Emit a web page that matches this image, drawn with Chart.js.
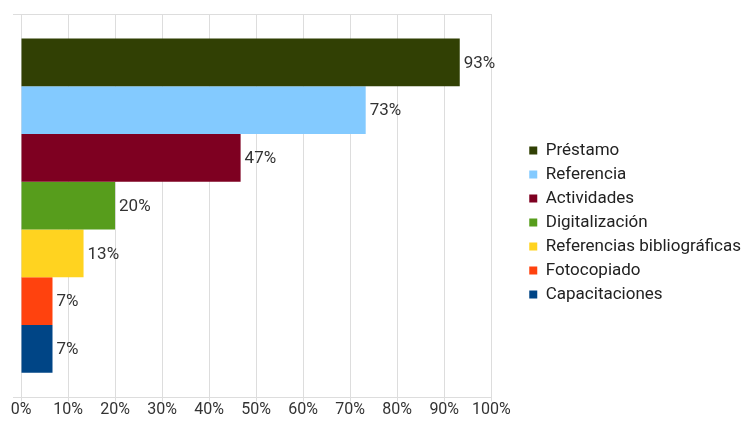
<!DOCTYPE html>
<html>
<head>
<meta charset="utf-8">
<script src="https://cdn.jsdelivr.net/npm/chart.js@4"></script>
<style>
html,body{margin:0;padding:0;background:#fff;}
#wrap{width:743px;height:423px;position:relative;}
</style>
</head>
<body>
<div id="wrap"><canvas id="c" width="743" height="423"></canvas></div>
<script>
const seriesNames = ["Préstamo","Referencia","Actividades","Digitalización","Referencias bibliográficas","Fotocopiado","Capacitaciones"];
const seriesValues = [93.3, 73.3, 46.7, 20.0, 13.3, 6.7, 6.7];
const seriesColors = ["#314004","#83caff","#7e0021","#579d1c","#ffd320","#ff420e","#004586"];
const categories = [""];
const xTicks = [0,10,20,30,40,50,60,70,80,90,100];

function draw(){
const datasets = seriesNames.map((n,i)=>({
  label:n,
  data:[seriesValues[i]],
  backgroundColor:seriesColors[i],
  borderWidth:0,
  categoryPercentage:0.872,
  barPercentage:1
}));

const valueLabels = {
  id:'valueLabels',
  afterDatasetsDraw(chart){
    const ctx = chart.ctx;
    ctx.save();
    ctx.font = '17px Roboto';
    ctx.fillStyle = '#333';
    ctx.textBaseline = 'middle';
    ctx.textAlign = 'left';
    chart.data.datasets.forEach((ds,i)=>{
      const meta = chart.getDatasetMeta(i);
      meta.data.forEach((el,j)=>{
        ctx.fillText(Math.round(ds.data[j]) + '%', el.x + 4, el.y + 1);
      });
    });
    ctx.restore();
  }
};

new Chart(document.getElementById('c'), {
  type:'bar',
  data:{labels:categories, datasets},
  options:{
    indexAxis:'y',
    responsive:false,
    animation:false,
    layout:{padding:{left:13,top:14,right:-8,bottom:4}},
    scales:{
      x:{
        min:0,max:100,
        afterBuildTicks(s){ s.ticks = xTicks.map(v=>({value:v})); },
        ticks:{callback:v=>v+'%', color:'#333', font:{family:'Roboto',size:16,lineHeight:1.1}, padding:0, maxRotation:0},
        grid:{color:'#dddddd', tickLength:4},
        border:{color:'#dddddd'}
      },
      y:{
        type:'category',
        offset:true,
        ticks:{display:false},
        grid:{color:'#dddddd', tickLength:8, offset:true},
        border:{color:'#dddddd'}
      },
      yGap:{
        type:'category',
        position:'right',
        offset:true,
        ticks:{display:false},
        grid:{display:false, drawTicks:false},
        border:{display:false},
        afterFit(s){ s.width = 31; }
      }
    },
    plugins:{
      legend:{
        position:'right',
        maxWidth:320,
        title:{display:true, text:' ', font:{size:10,lineHeight:1.2}, padding:0},
        labels:{boxWidth:8, boxHeight:8, padding:7, color:'#222', font:{family:'Roboto',size:17}}
      },
      tooltip:{enabled:false}
    }
  },
  plugins:[valueLabels]
});
}
if (document.fonts && document.fonts.load) {
  Promise.all([document.fonts.load('16px Roboto'), document.fonts.load('17px Roboto')]).then(draw, draw);
} else { draw(); }
</script>
</body>
</html>
